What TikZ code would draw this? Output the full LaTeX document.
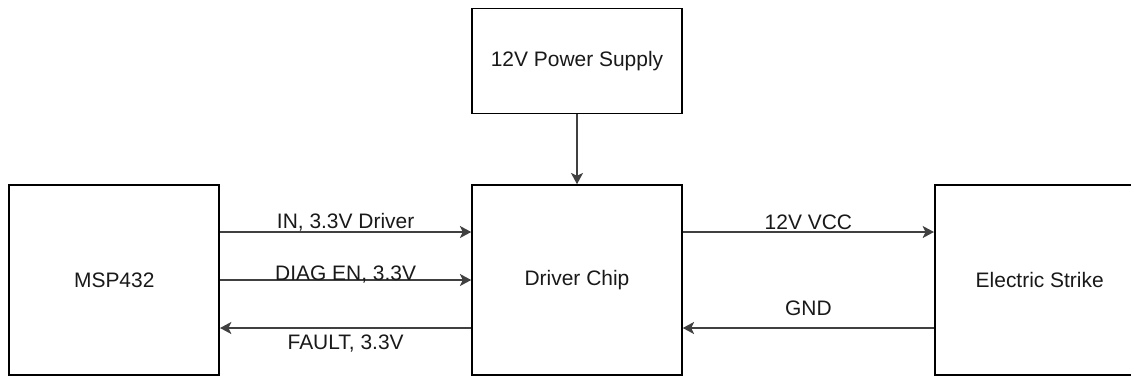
\documentclass[tikz,border=0pt]{standalone}
\usepackage{fontspec}
\setmainfont{Liberation Sans}
\usetikzlibrary{positioning, arrows.meta, calc}
\tikzset{
  blockbox/.style={
    draw=black, line width=1.1pt,
    fill=white,
    text=black!90,
    align=center,
    minimum width=5.25cm,
    minimum height=#1,
    inner sep=0pt,
    font=\fontsize{14.9}{18}\selectfont
  },
  blockbox/.default=4.75cm,
  wire/.style={
    -{Stealth[length=8pt,width=8.5pt,inset=2pt]},
    line width=1.3pt,
    draw=black!75
  },
  wirelabel/.style={
    font=\fontsize{14.9}{18}\selectfont,
    text=black!90,
    midway,
    anchor=base,
    inner sep=0pt
  }
}

\begin{document}
\begin{tikzpicture}[node distance=1.75cm and 6.28cm]
  \useasboundingbox (0,0) rectangle (28.275,-9.425);

  \node[blockbox] (driver) at (14.425,-7.0) {Driver Chip};
  \node[blockbox, left=of driver] (msp) {MSP432};
  \node[blockbox, right=of driver] (strike) {Electric Strike};
  \node[blockbox=2.625cm, above=of driver] (supply) {12V Power Supply};

  \draw[wire] (supply) -- (driver);

  \draw[wire] ([yshift=1.2cm]msp.east) -- node[wirelabel, yshift=2.5pt]{IN, 3.3V Driver} ([yshift=1.2cm]driver.west);
  \draw[wire] (msp.east) -- node[wirelabel, yshift=-0.5pt]{DIAG EN, 3.3V} (driver.west);
  \draw[wire] ([yshift=-1.2cm]driver.west) -- node[wirelabel, yshift=-15pt]{FAULT, 3.3V} ([yshift=-1.2cm]msp.east);

  \draw[wire] ([yshift=1.2cm]driver.east) -- node[wirelabel, yshift=2pt]{12V VCC} ([yshift=1.2cm]strike.west);
  \draw[wire] ([yshift=-1.2cm]strike.west) -- node[wirelabel, yshift=9pt]{GND} ([yshift=-1.2cm]driver.east);
\end{tikzpicture}
\end{document}
